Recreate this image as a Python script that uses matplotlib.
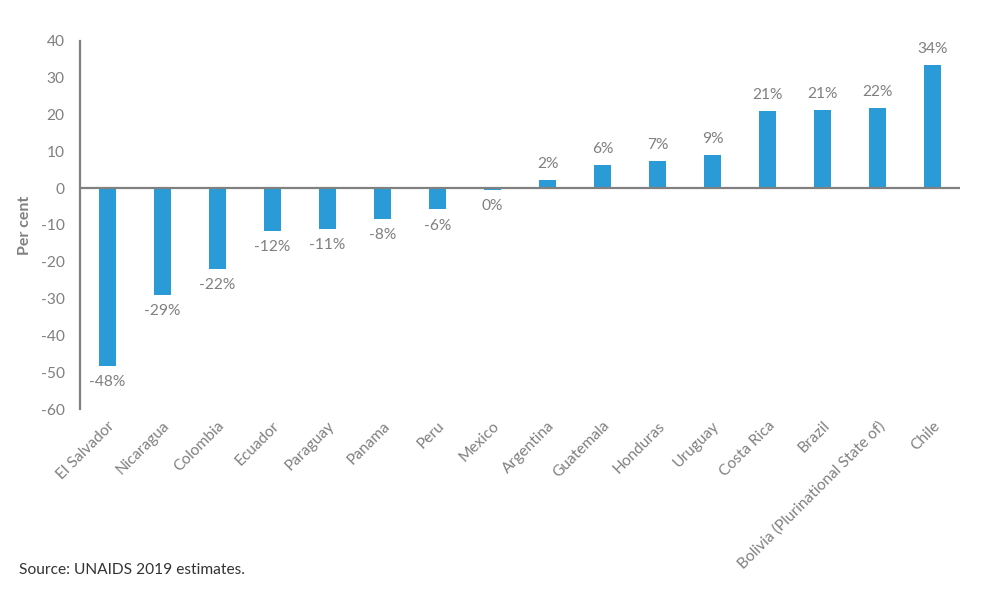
import matplotlib.pyplot as plt
import numpy as np

countries = ['El Salvador', 'Nicaragua', 'Colombia', 'Ecuador', 'Paraguay', 'Panama',
             'Peru', 'Mexico', 'Argentina', 'Guatemala', 'Honduras', 'Uruguay',
             'Costa Rica', 'Brazil', 'Bolivia (Plurinational State of)', 'Chile']
values = [-48.3, -29.1, -22.0, -11.6, -11.0, -8.4, -5.8, -0.4, 2.1, 6.3,
          7.3, 9.0, 21.0, 21.3, 21.8, 33.5]
labels = ['-48%', '-29%', '-22%', '-12%', '-11%', '-8%', '-6%', '0%', '2%', '6%',
          '7%', '9%', '21%', '21%', '22%', '34%']

grey = '#808080'
plt.rcParams['font.family'] = ['Lato', 'DejaVu Sans']
plt.rcParams['axes.unicode_minus'] = False
fs = 11.2

fig = plt.figure(figsize=(9.86, 5.92), dpi=100)
ax = fig.add_axes([0.0811, 0.309, 0.8925, 0.622])

x = np.arange(len(countries))
ax.bar(x, values, width=0.32, color='#2a9bd6', zorder=2)
ax.axhline(0, color=grey, lw=1.6, zorder=3)

for xi, v, lab in zip(x, values, labels):
    if v >= 0:
        ax.text(xi, v + 2.5, lab, ha='center', va='bottom', fontsize=fs, color=grey)
    else:
        ax.text(xi, v - 2.5, lab, ha='center', va='top', fontsize=fs, color=grey)

ax.set_xlim(-0.5, 15.5)
ax.set_ylim(-60, 40)
ax.set_yticks(range(-60, 41, 10))
ax.set_xticks(x)
ax.set_xticklabels(countries, rotation=45, ha='right', rotation_mode='anchor',
                   fontsize=fs, color=grey)
ax.tick_params(axis='both', length=0, labelsize=fs, labelcolor=grey)
ax.tick_params(axis='y', pad=11)
ax.tick_params(axis='x', pad=7)
for s in ['top', 'right', 'bottom']:
    ax.spines[s].set_visible(False)
ax.spines['left'].set_color(grey)
ax.spines['left'].set_linewidth(1.6)
ax.set_ylabel('Per cent', fontsize=11.5, color=grey, fontweight='bold', labelpad=6)

fig.text(0.019, 0.03, 'Source: UNAIDS 2019 estimates.', fontsize=fs, color='#333333')

fig.savefig('out.png', dpi=100)
